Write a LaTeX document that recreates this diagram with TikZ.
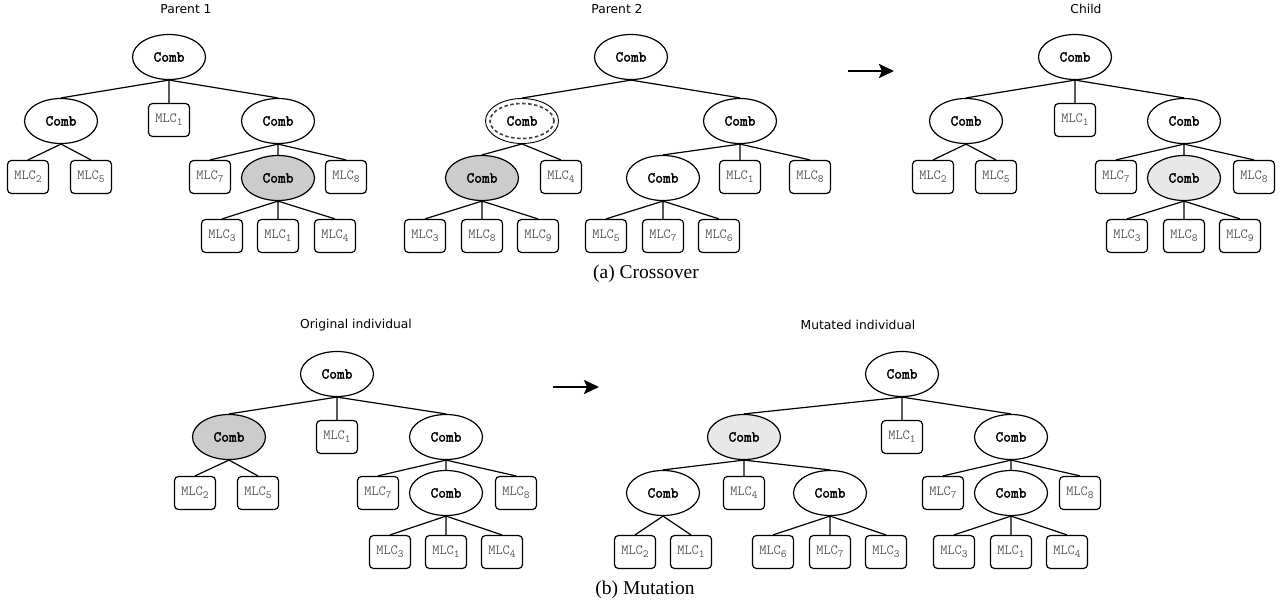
\documentclass[tikz,border=0pt]{standalone}
\usepackage{fontspec}
\setsansfont{DejaVu Sans}
\setmonofont[AutoFakeBold=2.2]{Latin Modern Mono}
\newfontfamily\capfont{Liberation Serif}
\usetikzlibrary{arrows.meta,positioning,shapes.geometric}

\newcommand{\mlc}[1]{MLC\raisebox{-3pt}{\fontsize{11}{11}\selectfont#1}}

\begin{document}
\begin{tikzpicture}[x=1pt, y=-1pt,
  comb/.style={draw, ellipse, line width=1.2pt, minimum width=73pt,
               minimum height=45pt, inner sep=0pt,
               font=\ttfamily\bfseries\fontsize{15}{15}\selectfont},
  leaf/.style={draw, rounded corners=4pt, line width=1.2pt,
               minimum width=41pt, minimum height=33pt, inner sep=0pt,
               text=black!65, font=\ttfamily\fontsize{14}{14}\selectfont},
  dark/.style={fill=black!20},
  light/.style={fill=black!9},
  title/.style={font=\sffamily\fontsize{12.3}{14}\selectfont},
  capt/.style={font=\capfont\fontsize{19.5}{22}\selectfont},
  edge/.style={line width=1.2pt},
  step arrow/.style={line width=2.3pt, -{Stealth[length=15pt, width=14pt, inset=3pt]}}]
\useasboundingbox (0,0) rectangle (1283,608);

% ---- Parent 1
\node[title] (t1) at (186,9) {Parent 1};
\node[comb] (ar) at (169,57) {Comb};
\node[comb] (aa) at (61,121) {Comb};
\node[leaf] (ab) at (169,120) {\mlc{1}};
\node[comb] (ac) at (278,121) {Comb};
\node[leaf] (aa1) at (28,177) {\mlc{2}};
\node[leaf] (aa2) at (91,177) {\mlc{5}};
\node[leaf] (ac1) at (210,177) {\mlc{7}};
\node[comb, dark] (ac2) at (278,178) {Comb};
\node[leaf] (ac3) at (346,177) {\mlc{8}};
\node[leaf] (ac21) at (222,236) {\mlc{3}};
\node[leaf] (ac22) at (278,236) {\mlc{1}};
\node[leaf] (ac23) at (335,236) {\mlc{4}};
\draw[edge] (ar.south) -- (aa.north) (ar.south) -- (ab.north) (ar.south) -- (ac.north);
\draw[edge] (aa.south) -- (aa1.north) (aa.south) -- (aa2.north);
\draw[edge] (ac.south) -- (ac1.north) (ac.south) -- (ac2.north) (ac.south) -- (ac3.north);
\draw[edge] (ac2.south) -- (ac21.north) (ac2.south) -- (ac22.north) (ac2.south) -- (ac23.north);

% ---- Parent 2
\node[title] (t2) at (617,9) {Parent 2};
\node[comb] (br) at (631,57) {Comb};
\node[comb, line width=0.9pt] (ba) at (522,121) {Comb};
\draw[dashed, dash pattern=on 3.5pt off 2.5pt, line width=1.6pt, black!75]
  (ba.center) ellipse [x radius=32pt, y radius=17.5pt];
\node[comb] (bc) at (740,121) {Comb};
\node[comb, dark] (ba1) at (482,178) {Comb};
\node[leaf] (ba2) at (561,177) {\mlc{4}};
\node[comb] (bc1) at (663,178) {Comb};
\node[leaf] (bc2) at (740,177) {\mlc{1}};
\node[leaf] (bc3) at (810,177) {\mlc{8}};
\node[leaf] (ba11) at (425,236) {\mlc{3}};
\node[leaf] (ba12) at (482,236) {\mlc{8}};
\node[leaf] (ba13) at (538,236) {\mlc{9}};
\node[leaf] (bc11) at (606,236) {\mlc{5}};
\node[leaf] (bc12) at (663,236) {\mlc{7}};
\node[leaf] (bc13) at (719,236) {\mlc{6}};
\draw[edge] (br.south) -- (ba.north) (br.south) -- (bc.north);
\draw[edge] (ba.south) -- (ba1.north) (ba.south) -- (ba2.north);
\draw[edge] (bc.south) -- (bc1.north) (bc.south) -- (bc2.north) (bc.south) -- (bc3.north);
\draw[edge] (ba1.south) -- (ba11.north) (ba1.south) -- (ba12.north) (ba1.south) -- (ba13.north);
\draw[edge] (bc1.south) -- (bc11.north) (bc1.south) -- (bc12.north) (bc1.south) -- (bc13.north);

% ---- crossover arrow
\coordinate (x0) at (848,71);
\coordinate (x1) at (894,71);
\draw[step arrow] (x0) -- (x1);

% ---- Child
\node[title] (t3) at (1086,9) {Child};
\node[comb] (cr) at (1075,57) {Comb};
\node[comb] (ca) at (966,121) {Comb};
\node[leaf] (cb) at (1075,120) {\mlc{1}};
\node[comb] (cc) at (1184,121) {Comb};
\node[leaf] (ca1) at (933,177) {\mlc{2}};
\node[leaf] (ca2) at (996,177) {\mlc{5}};
\node[leaf] (cc1) at (1116,177) {\mlc{7}};
\node[comb, light] (cc2) at (1184,178) {Comb};
\node[leaf] (cc3) at (1254,177) {\mlc{8}};
\node[leaf] (cc21) at (1127,236) {\mlc{3}};
\node[leaf] (cc22) at (1184,236) {\mlc{8}};
\node[leaf] (cc23) at (1240,236) {\mlc{9}};
\draw[edge] (cr.south) -- (ca.north) (cr.south) -- (cb.north) (cr.south) -- (cc.north);
\draw[edge] (ca.south) -- (ca1.north) (ca.south) -- (ca2.north);
\draw[edge] (cc.south) -- (cc1.north) (cc.south) -- (cc2.north) (cc.south) -- (cc3.north);
\draw[edge] (cc2.south) -- (cc21.north) (cc2.south) -- (cc22.north) (cc2.south) -- (cc23.north);

\node[capt] (capa) at (646,274) {(a) Crossover};

% ---- Original individual
\node[title] (t4) at (356,325) {Original individual};
\node[comb] (dr) at (337,374) {Comb};
\node[comb, dark] (da) at (229,437) {Comb};
\node[leaf] (db) at (337,437) {\mlc{1}};
\node[comb] (dc) at (446,437) {Comb};
\node[leaf] (da1) at (195,493) {\mlc{2}};
\node[leaf] (da2) at (258,493) {\mlc{5}};
\node[leaf] (dc1) at (378,493) {\mlc{7}};
\node[comb] (dc2) at (446,493) {Comb};
\node[leaf] (dc3) at (516,493) {\mlc{8}};
\node[leaf] (dc21) at (390,552) {\mlc{3}};
\node[leaf] (dc22) at (446,552) {\mlc{1}};
\node[leaf] (dc23) at (502,552) {\mlc{4}};
\draw[edge] (dr.south) -- (da.north) (dr.south) -- (db.north) (dr.south) -- (dc.north);
\draw[edge] (da.south) -- (da1.north) (da.south) -- (da2.north);
\draw[edge] (dc.south) -- (dc1.north) (dc.south) -- (dc2.north) (dc.south) -- (dc3.north);
\draw[edge] (dc2.south) -- (dc21.north) (dc2.south) -- (dc22.north) (dc2.south) -- (dc23.north);

% ---- mutation arrow
\coordinate (y0) at (553,387);
\coordinate (y1) at (599,387);
\draw[step arrow] (y0) -- (y1);

% ---- Mutated individual
\node[title] (t5) at (858,325) {Mutated individual};
\node[comb] (er) at (902,374) {Comb};
\node[comb, light] (ea) at (744,437) {Comb};
\node[leaf] (eb) at (902,437) {\mlc{1}};
\node[comb] (ec) at (1011,437) {Comb};
\node[comb] (ea1) at (663,493) {Comb};
\node[leaf] (ea2) at (744,493) {\mlc{4}};
\node[comb] (ea3) at (830,493) {Comb};
\node[leaf] (ec1) at (943,493) {\mlc{7}};
\node[comb] (ec2) at (1011,493) {Comb};
\node[leaf] (ec3) at (1080,493) {\mlc{8}};
\node[leaf] (ea11) at (635,552) {\mlc{2}};
\node[leaf] (ea12) at (691,552) {\mlc{1}};
\node[leaf] (ea31) at (773,552) {\mlc{6}};
\node[leaf] (ea32) at (830,552) {\mlc{7}};
\node[leaf] (ea33) at (886,552) {\mlc{3}};
\node[leaf] (ec21) at (954,552) {\mlc{3}};
\node[leaf] (ec22) at (1011,552) {\mlc{1}};
\node[leaf] (ec23) at (1067,552) {\mlc{4}};
\draw[edge] (er.south) -- (ea.north) (er.south) -- (eb.north) (er.south) -- (ec.north);
\draw[edge] (ea.south) -- (ea1.north) (ea.south) -- (ea2.north) (ea.south) -- (ea3.north);
\draw[edge] (ec.south) -- (ec1.north) (ec.south) -- (ec2.north) (ec.south) -- (ec3.north);
\draw[edge] (ea1.south) -- (ea11.north) (ea1.south) -- (ea12.north);
\draw[edge] (ea3.south) -- (ea31.north) (ea3.south) -- (ea32.north) (ea3.south) -- (ea33.north);
\draw[edge] (ec2.south) -- (ec21.north) (ec2.south) -- (ec22.north) (ec2.south) -- (ec23.north);

\node[capt] (capb) at (645,590) {(b) Mutation};
\end{tikzpicture}
\end{document}
